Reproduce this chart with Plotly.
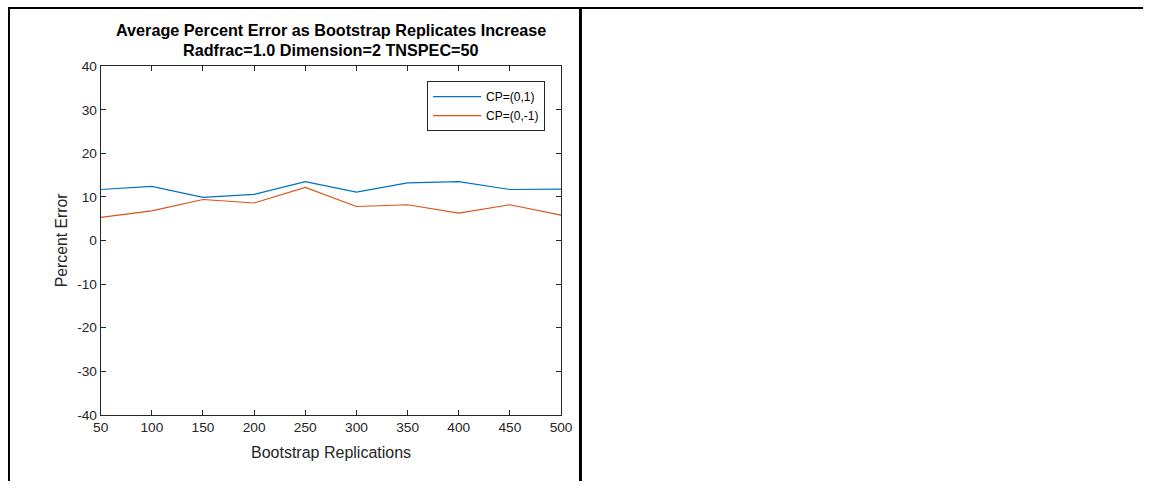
import plotly.graph_objects as go

W, H = 1155, 489
# layout positions below are given on an inset grid: an 8px border and a
# 1139x473 drawing box inside the 1155x489 canvas
INSET, BOX_W, BOX_H = 8, 1139, 473

# Bootstrap replications on the x axis
replications = [50, 100, 150, 200, 250, 300, 350, 400, 450, 500]
# Average percent error for each change point
err_cp_pos = [11.7, 12.4, 9.9, 10.6, 13.5, 11.1, 13.2, 13.5, 11.7, 11.8]
err_cp_neg = [5.3, 6.8, 9.4, 8.6, 12.2, 7.8, 8.2, 6.3, 8.2, 5.8]
series_names = ["CP=(0,1)", "CP=(0,-1)"]

x_ticks = [50, 100, 150, 200, 250, 300, 350, 400, 450, 500]
y_ticks = [-40, -30, -20, -10, 0, 10, 20, 30, 40]

title_lines = ["Average Percent Error as Bootstrap Replicates Increase",
               "Radfrac=1.0 Dimension=2 TNSPEC=50"]
x_title = "Bootstrap Replications"
y_title = "Percent Error"

FONT = "Liberation Sans, Arial, Helvetica, sans-serif"
AX = "#262626"


def px(x):
    return min(max((x - INSET) / BOX_W, 0.0), 1.0)


def py(y):
    return min(max(1 - (y - INSET) / BOX_H, 0.0), 1.0)


fig = go.Figure()
fig.add_trace(go.Scatter(x=replications, y=err_cp_pos, mode="lines",
                         name=series_names[0],
                         line=dict(color="#0072BD", width=1.2)))
fig.add_trace(go.Scatter(x=replications, y=err_cp_neg, mode="lines",
                         name=series_names[1],
                         line=dict(color="#D95319", width=1.2)))

axis_common = dict(showline=True, linecolor=AX, linewidth=1, mirror="ticks",
                   ticks="inside", ticklen=5, tickcolor=AX, tickwidth=1,
                   showgrid=False, zeroline=False,
                   tickfont=dict(family=FONT, size=13.7, color=AX))

fig.update_layout(
    width=W, height=H,
    margin=dict(l=0, r=0, t=0, b=0),
    paper_bgcolor="white", plot_bgcolor="white",
    font=dict(family=FONT, color=AX),
    xaxis=dict(range=[50, 500], tickvals=x_ticks,
               ticktext=[str(v) for v in x_ticks],
               domain=[px(101), px(563)], **axis_common),
    yaxis=dict(range=[-40, 40], tickvals=y_ticks,
               ticktext=[str(v) for v in y_ticks],
               domain=[py(415), py(67)], **axis_common),
    showlegend=True,
    legend=dict(x=px(547), y=py(82), xanchor="right", yanchor="top",
                bgcolor="white", bordercolor=AX, borderwidth=1,
                font=dict(family=FONT, size=12, color="#000000"),
                itemwidth=48),
)

annotations = [
    dict(text="<b>%s</b>" % title_lines[0], x=px(332), y=py(31)),
    dict(text="<b>%s</b>" % title_lines[1], x=px(332), y=py(51)),
]
for a in annotations:
    a.update(xref="paper", yref="paper", showarrow=False,
             xanchor="center", yanchor="middle",
             font=dict(family=FONT, size=16.2, color="#000000"))
annotations.append(dict(text=x_title, x=px(332), y=py(453), xref="paper",
                        yref="paper", showarrow=False, xanchor="center",
                        yanchor="middle",
                        font=dict(family=FONT, size=16, color=AX)))
annotations.append(dict(text=y_title, x=px(62), y=py(241), xref="paper",
                        yref="paper", showarrow=False, xanchor="center",
                        yanchor="middle", textangle=-90,
                        font=dict(family=FONT, size=15.8, color=AX)))
fig.update_layout(annotations=annotations)

# Table frame around the figure cell: top rule, left rule, cell divider
fig.update_layout(shapes=[
    dict(type="rect", xref="paper", yref="paper",
         x0=0, x1=px(1151), y0=1 - 2 / H, y1=1,
         fillcolor="black", line=dict(width=0), layer="above"),
    dict(type="rect", xref="paper", yref="paper",
         x0=0, x1=2 / W, y0=0, y1=1,
         fillcolor="black", line=dict(width=0), layer="above"),
    dict(type="rect", xref="paper", yref="paper",
         x0=px(581), x1=px(584), y0=0, y1=1,
         fillcolor="black", line=dict(width=0), layer="above"),
])

fig.write_html("out.html")
